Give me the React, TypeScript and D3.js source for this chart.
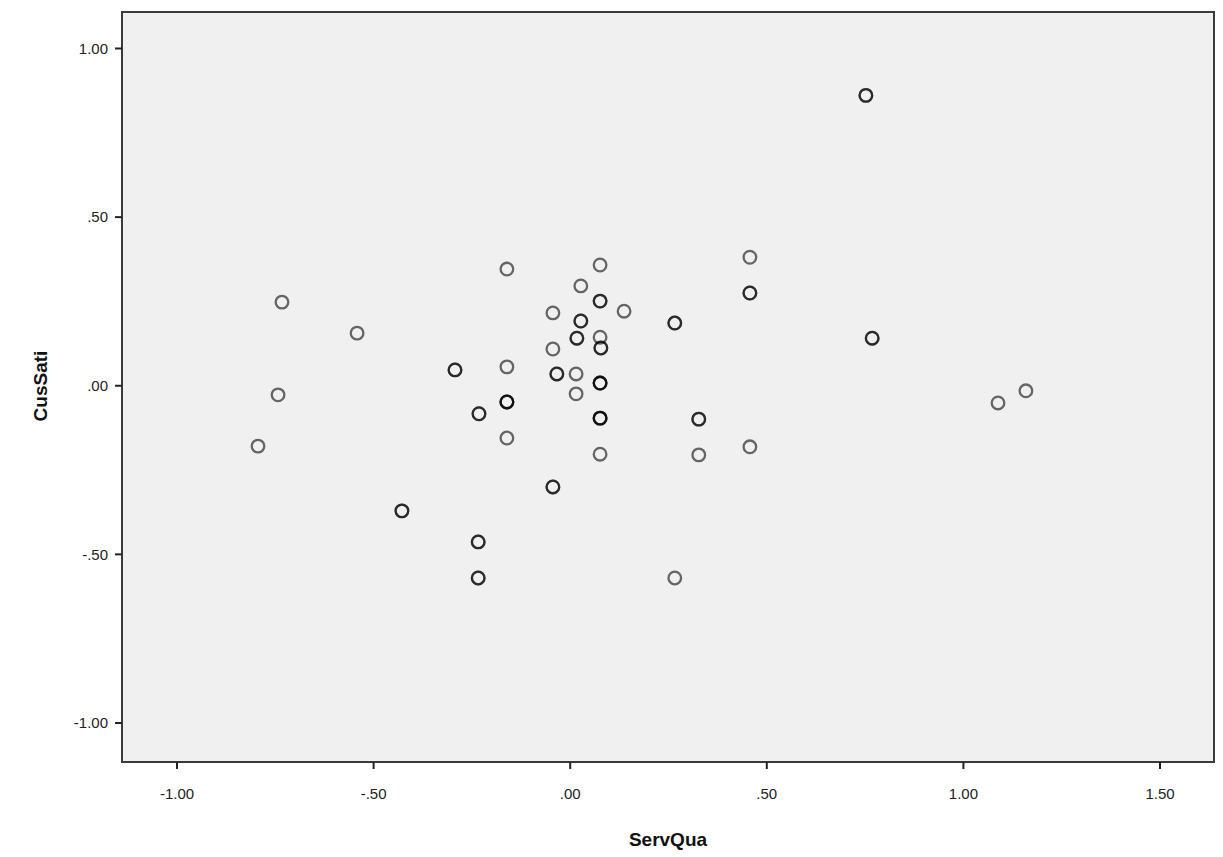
import React from "react";
import * as d3 from "d3";

const servQua: number[] = [
  0.752, -0.733, -0.542, -0.743, -0.794, -0.428, -0.293, -0.232, -0.234, -0.234,
  -0.161, -0.161, -0.161, -0.161, -0.044, -0.044, -0.034, -0.044, 0.027, 0.027,
  0.017, 0.015, 0.015, 0.076, 0.076, 0.076, 0.078, 0.076, 0.076, 0.076,
  0.137, 0.266, 0.266, 0.327, 0.327, 0.457, 0.457, 0.457, 0.768, 1.088, 1.159,
];
const cusSati: number[] = [
  0.861, 0.248, 0.156, -0.027, -0.179, -0.371, 0.047, -0.083, -0.463, -0.57,
  0.346, 0.056, -0.048, -0.155, 0.216, 0.109, 0.035, -0.3, 0.296, 0.192,
  0.141, 0.035, -0.024, 0.358, 0.251, 0.144, 0.112, 0.008, -0.096, -0.203,
  0.221, 0.186, -0.57, -0.099, -0.205, 0.381, 0.275, -0.181, 0.141, -0.051, -0.015,
];
// number of overlapping cases at each plotted position
const caseCount: number[] = [
  2, 1, 1, 1, 1, 2, 2, 2, 2, 2,
  1, 1, 3, 1, 1, 1, 2, 2, 1, 2,
  2, 1, 1, 1, 2, 1, 2, 3, 3, 1,
  1, 2, 1, 2, 1, 1, 2, 1, 2, 1, 1,
];

const xTicks: number[] = [-1, -0.5, 0, 0.5, 1, 1.5];
const yTicks: number[] = [-1, -0.5, 0, 0.5, 1];

const fmt = (v: number) => {
  const s = v.toFixed(2);
  if (s.startsWith("0.")) return s.slice(1);
  if (s.startsWith("-0.")) return "-" + s.slice(2);
  return s;
};

export default function App() {
  const W = 1223, H = 857;
  const left = 122, right = 1214, top = 12, bottom = 762;
  const x = d3.scaleLinear().domain([-1, 1.5]).range([177, 1160]);
  const y = d3.scaleLinear().domain([-1, 1]).range([723, 48.5]);

  const points: { cx: number; cy: number; k: string }[] = [];
  servQua.forEach((v, i) => {
    for (let c = 0; c < caseCount[i]; c++) {
      points.push({ cx: x(v), cy: y(cusSati[i]), k: `${i}-${c}` });
    }
  });

  const font = "'Liberation Sans', Arial, sans-serif";

  return (
    <svg width={W} height={H} style={{ position: "absolute", left: 0, top: 0, background: "#fff" }}>
      <rect x={left} y={top} width={right - left} height={bottom - top} fill="#f0f0f0" stroke="none" />
      {points.map((p) => (
        <circle key={p.k} cx={p.cx} cy={p.cy} r={6.3} fill="none" stroke="#000" strokeOpacity={0.58} strokeWidth={2.3} />
      ))}
      <rect x={left} y={top} width={right - left} height={bottom - top} fill="none" stroke="#3a3a3a" strokeWidth={2} />
      {xTicks.map((t) => (
        <g key={`x${t}`}>
          <line x1={x(t)} x2={x(t)} y1={bottom} y2={bottom + 7} stroke="#222" strokeWidth={2} />
          <text x={x(t)} y={bottom + 37} textAnchor="middle" fontFamily={font} fontSize={15} fill="#222">{fmt(t)}</text>
        </g>
      ))}
      {yTicks.map((t) => (
        <g key={`y${t}`}>
          <line x1={left - 7} x2={left} y1={y(t)} y2={y(t)} stroke="#222" strokeWidth={2} />
          <text x={left - 14} y={y(t)} dy="0.35em" textAnchor="end" fontFamily={font} fontSize={15} fill="#222">{fmt(t)}</text>
        </g>
      ))}
      <text x={668} y={846} textAnchor="middle" fontFamily={font} fontWeight="bold" fontSize={19} fill="#111">ServQua</text>
      <text transform={`translate(47,386) rotate(-90)`} textAnchor="middle" fontFamily={font} fontWeight="bold" fontSize={19} fill="#111">CusSati</text>
    </svg>
  );
}
